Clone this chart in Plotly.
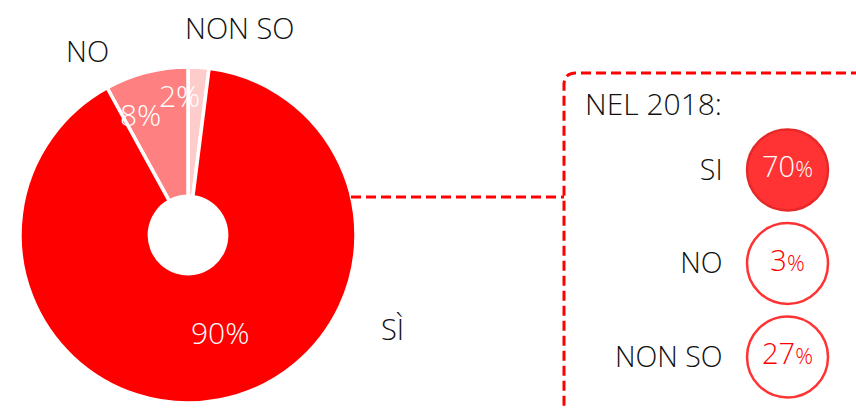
import math
import plotly.graph_objects as go

# ---- data ----
pie_labels = ["NON SO", "NO", "SÌ"]
pie_values = [2, 8, 90]
pie_colors = ["#FFCCCC", "#FF8080", "#FF0000"]

y2018_title = "NEL 2018:"
y2018_labels = ["SI", "NO", "NON SO"]
y2018_values = [70, 3, 27]

W, H = 856, 409
FONT = "Open Sans"


def px(x):
    return x / W


def py(y):
    return 1 - y / H


fig = go.Figure()

# donut
pie_dom_x = [px(20), px(356)]
pie_dom_y = [py(403), py(67)]
fig.add_trace(go.Pie(
    labels=pie_labels, values=pie_values, sort=False,
    direction="counterclockwise", rotation=0, hole=0.23,
    marker=dict(colors=pie_colors, line=dict(color="white", width=3.5)),
    textinfo="none", hoverinfo="label+percent", showlegend=False,
    domain=dict(x=pie_dom_x, y=pie_dom_y),
))

# percentage labels computed from slice angles
cx, cy, R = 188, 235, 168
rfac = [0.83, 0.77, 0.61]
total = sum(pie_values)
cum = 0
annotations = []
for lab, v, rf in zip(pie_labels, pie_values, rfac):
    mid = (cum + v / 2) / total * 2 * math.pi
    cum += v
    x = cx - math.sin(mid) * R * rf
    y = cy - math.cos(mid) * R * rf
    annotations.append(dict(
        x=px(x), y=py(y), xref="paper", yref="paper",
        text=f"{round(v / total * 100)}%", showarrow=False,
        font=dict(family=FONT, size=30, color="white", weight=300),
        xanchor="center", yanchor="middle"))

# outside category labels
outside_pos = {"NON SO": (240, 28), "NO": (87, 50), "SÌ": (392, 328)}
for lab in pie_labels:
    x, y = outside_pos[lab]
    annotations.append(dict(
        x=px(x), y=py(y), xref="paper", yref="paper", text=lab,
        showarrow=False, xanchor="center", yanchor="middle",
        font=dict(family=FONT, size=29, color="#111111", weight=300)))

annotations.append(dict(
    x=px(583), y=py(103), xref="paper", yref="paper", text=y2018_title,
    showarrow=False, xanchor="left", yanchor="middle",
    font=dict(family=FONT, size=30, color="#111111", weight=300)))

# 2018 circles
fills = ["#FF3333" if i == 0 else "white" for i in range(len(y2018_values))]
lines = ["#E62828" if i == 0 else "#FF3333" for i in range(len(y2018_values))]
tcols = ["white" if i == 0 else "#FF0000" for i in range(len(y2018_values))]
fig.add_trace(go.Scatter(
    x=[0] * len(y2018_labels), y=y2018_labels, mode="markers+text",
    marker=dict(size=81, color=fills, line=dict(color=lines, width=2.5)),
    text=[f"{v}<span style='font-size:22px'>%</span>" for v in y2018_values],
    textposition="middle center",
    textfont=dict(family=FONT, size=29, color=tcols, weight=300),
    showlegend=False, hoverinfo="skip", cliponaxis=False,
))

# dashed frame and connector
red = "#FF0000"
r = 12
frame = (f"M {px(W + 5)},{py(73)} L {px(564 + r)},{py(73)} "
         f"Q {px(564)},{py(73)} {px(564)},{py(73 + r)} L {px(564)},{py(H + 5)}")
shapes = [
    dict(type="path", path=frame, xref="paper", yref="paper",
         line=dict(color=red, width=3, dash="10px,5px")),
    dict(type="line", x0=px(351), x1=px(564), y0=py(197), y1=py(197),
         xref="paper", yref="paper",
         line=dict(color=red, width=3, dash="10px,5px")),
]

fig.update_layout(
    width=W, height=H, margin=dict(l=0, r=0, t=0, b=0),
    paper_bgcolor="white", plot_bgcolor="white",
    annotations=annotations, shapes=shapes,
    xaxis=dict(domain=[0.85, 0.99], range=[-1, 1], visible=False, fixedrange=True),
    yaxis=dict(domain=[py(403.75), py(123.25)], type="category",
               range=[2.5, -0.5], showgrid=False, zeroline=False, showline=False,
               ticks="", ticklabelstandoff=4,
               tickfont=dict(family=FONT, size=28.5, color="#111111", weight=300),
               fixedrange=True),
)

fig.write_html("out.html", config={"displayModeBar": False},
               post_script="document.body.style.margin='0';document.body.style.overflow='hidden';")
